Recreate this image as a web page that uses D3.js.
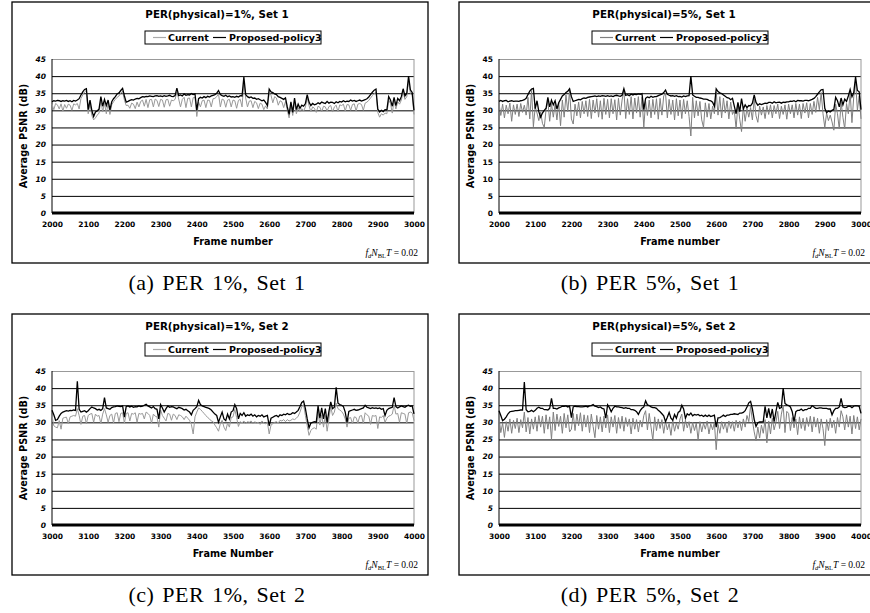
<!DOCTYPE html>
<html>
<head>
<meta charset="utf-8">
<script src="https://cdn.jsdelivr.net/npm/d3@7"></script>
<style>
  body { margin: 0; background: #fff; }
  svg text { font-family: "DejaVu Sans", Verdana, sans-serif; }
</style>
</head>
<body>
<svg id="fig" width="870" height="613"></svg>
<script>
// frames are sampled every 5 frames, 1000 frames per panel
const frameStep = 5;
const set1Start = 2000;
const set2Start = 3000;
const set1Ticks = [2000, 2100, 2200, 2300, 2400, 2500, 2600, 2700, 2800, 2900, 3000];
const set2Ticks = [3000, 3100, 3200, 3300, 3400, 3500, 3600, 3700, 3800, 3900, 4000];
const yTicks = [0, 5, 10, 15, 20, 25, 30, 35, 40, 45];
const seriesNames = ["Current", "Proposed-policy3"];

const titles = ["PER(physical)=1%, Set 1", "PER(physical)=5%, Set 1", "PER(physical)=1%, Set 2", "PER(physical)=5%, Set 2"];
const xLabels = ["Frame number", "Frame number", "Frame Number", "Frame number"];
const yLabels = ["Average PSNR (dB)", "Average PSNR (dB)", "Average PSNR (dB)", "Avergae PSNR (dB)"];
const captions = ["(a) PER 1%, Set 1", "(b) PER 5%, Set 1", "(c) PER 1%, Set 2", "(d) PER 5%, Set 2"];

// (a) PER 1%, Set 1
const set1Per1Current = [
  31.8, 30.2, 32.0, 31.6, 30.4, 31.9, 29.8, 31.7, 30.6, 31.8,
  31.5, 30.0, 31.9, 31.6, 32.0, 30.4, 33.5, 34.5, 35.4, 35.8,
  29.0, 32.0, 28.5, 27.2, 27.8, 28.6, 29.2, 33.0, 29.5, 32.2,
  29.0, 32.1, 28.8, 31.6, 32.5, 33.2, 33.8, 34.2, 35.0, 35.6,
  33.0, 31.4, 31.5, 30.6, 32.1, 31.8, 30.5, 32.4, 31.0, 32.6,
  33.0, 31.2, 33.2, 30.8, 33.1, 33.2, 31.0, 33.3, 32.9, 31.1,
  33.2, 33.0, 30.9, 33.1, 33.2, 31.2, 33.0, 32.8, 33.2, 35.4,
  33.3, 31.0, 33.2, 33.8, 30.8, 33.5, 33.6, 31.0, 33.7, 33.8,
  28.2, 32.4, 31.0, 32.8, 33.0, 30.8, 33.0, 32.9, 31.0, 33.4,
  33.5, 34.0, 34.8, 31.0, 33.3, 33.0, 30.9, 33.0, 33.2, 31.0,
  33.0, 32.8, 30.6, 32.9, 33.2, 31.0, 38.5, 33.6, 31.0, 32.7,
  32.8, 30.8, 32.6, 32.2, 30.5, 32.1, 31.8, 30.2, 31.3, 30.4,
  35.2, 34.4, 32.2, 34.0, 33.6, 31.5, 32.8, 32.5, 30.8, 32.6,
  30.0, 27.8, 31.5, 28.5, 32.6, 29.0, 30.8, 29.5, 30.5, 29.8,
  31.0, 33.6, 31.4, 29.6, 31.0, 30.6, 29.4, 31.2, 30.9, 29.6,
  31.2, 31.0, 29.8, 31.1, 31.4, 29.5, 31.0, 31.5, 29.6, 31.6,
  31.4, 31.8, 29.8, 31.7, 31.6, 30.0, 31.7, 31.9, 29.8, 31.8,
  32.0, 31.7, 30.0, 32.1, 32.4, 32.9, 33.6, 34.3, 34.9, 35.4,
  29.4, 28.0, 29.0, 28.6, 29.2, 29.0, 33.0, 32.0, 29.2, 32.8,
  30.4, 32.5, 31.8, 33.0, 35.3, 33.2, 34.0, 38.5, 35.0, 34.4,
  28.8
];
const set1Per1Proposed = [
  32.5, 32.8, 32.7, 32.9, 32.8, 32.6, 32.8, 32.7, 32.9, 32.6,
  32.8, 32.5, 32.9, 32.7, 33.0, 33.4, 34.5, 35.4, 36.1, 36.3,
  30.2, 33.0, 30.0, 28.2, 29.5, 29.8, 30.4, 34.0, 31.2, 33.2,
  31.4, 33.0, 30.1, 32.5, 33.4, 34.0, 34.8, 35.1, 35.8, 36.4,
  34.2, 32.4, 32.6, 32.9, 33.1, 33.0, 33.3, 33.5, 33.4, 33.7,
  34.0, 33.9, 34.1, 34.0, 34.2, 34.1, 34.0, 34.2, 34.3, 34.1,
  34.2, 34.0, 34.3, 34.1, 34.2, 34.4, 34.1, 34.0, 34.3, 36.5,
  34.3, 34.5, 34.2, 34.8, 34.4, 34.6, 34.5, 34.9, 34.6, 34.8,
  30.0, 33.4, 33.8, 33.6, 34.0, 33.7, 34.1, 33.9, 34.2, 34.4,
  34.6, 35.0, 35.8, 34.6, 34.3, 34.1, 34.4, 34.0, 34.2, 33.9,
  34.0, 33.8, 34.1, 33.9, 34.3, 34.2, 39.7, 34.6, 34.0, 33.7,
  33.9, 33.5, 33.6, 33.2, 33.4, 33.1, 32.8, 33.0, 32.3, 31.4,
  36.2, 35.4, 35.2, 34.8, 34.6, 34.0, 33.8, 33.5, 33.2, 33.6,
  31.0, 28.8, 32.5, 29.4, 33.6, 30.2, 31.8, 30.6, 31.5, 31.2,
  32.0, 34.6, 32.4, 31.4, 32.0, 31.6, 31.8, 32.2, 31.9, 32.4,
  32.2, 32.0, 32.6, 32.1, 32.4, 32.3, 32.0, 32.5, 32.2, 32.6,
  32.4, 32.8, 32.5, 32.7, 32.6, 33.0, 32.7, 32.9, 32.6, 32.8,
  33.0, 32.7, 32.9, 33.1, 33.4, 33.9, 34.6, 35.3, 35.9, 36.2,
  30.4, 29.5, 30.0, 29.6, 30.2, 30.1, 34.0, 33.0, 31.2, 33.8,
  31.4, 33.5, 32.8, 34.0, 36.3, 34.2, 35.0, 40.0, 36.0, 35.2,
  30.0
];

// (b) PER 5%, Set 1
const set1Per5Current = [
  32.0, 28.5, 31.8, 27.8, 31.5, 29.0, 32.1, 26.8, 31.6, 28.8,
  31.8, 28.2, 32.0, 29.4, 31.5, 28.6, 33.8, 27.5, 35.8, 25.2,
  31.0, 29.2, 27.0, 29.5, 26.2, 25.0, 30.2, 32.8, 26.8, 32.0,
  28.0, 31.8, 27.2, 32.2, 25.5, 33.0, 28.0, 34.5, 29.6, 35.8,
  27.5, 26.0, 31.8, 28.4, 32.4, 27.8, 32.6, 29.0, 32.8, 28.2,
  33.2, 27.6, 33.0, 29.2, 33.4, 28.0, 32.8, 27.4, 33.5, 28.8,
  33.2, 27.8, 33.4, 29.0, 33.1, 27.2, 33.5, 28.6, 33.0, 35.8,
  27.6, 33.4, 28.8, 34.0, 27.5, 33.6, 29.2, 34.0, 28.0, 33.8,
  25.0, 32.6, 28.5, 33.0, 27.8, 33.2, 28.8, 33.4, 27.4, 33.5,
  28.6, 34.2, 35.0, 27.8, 33.2, 28.8, 33.0, 27.2, 33.4, 28.4,
  33.0, 27.6, 33.2, 29.0, 32.8, 28.2, 22.5, 33.8, 27.8, 32.8,
  28.4, 32.6, 27.2, 25.0, 32.2, 28.0, 32.0, 27.5, 31.2, 29.0,
  35.4, 28.6, 34.0, 27.8, 33.6, 29.2, 32.8, 27.5, 32.4, 28.8,
  30.0, 24.6, 32.0, 27.4, 23.8, 31.0, 26.8, 30.6, 28.0, 30.8,
  27.2, 33.4, 28.4, 26.5, 31.2, 28.6, 31.0, 27.6, 31.4, 28.8,
  31.6, 27.8, 31.4, 29.0, 31.8, 27.6, 31.2, 28.8, 31.6, 27.4,
  31.8, 29.0, 31.6, 27.8, 32.0, 28.6, 31.8, 27.6, 32.0, 29.2,
  32.2, 27.8, 32.0, 28.8, 32.6, 29.4, 33.8, 30.2, 35.2, 29.0,
  25.0, 29.2, 27.0, 28.6, 26.6, 24.2, 31.8, 29.0, 24.6, 32.4,
  28.0, 24.6, 32.0, 29.0, 35.2, 26.4, 34.0, 38.6, 30.0, 34.2,
  27.5
];
const set1Per5Proposed = [
  32.6, 32.9, 32.6, 32.8, 32.9, 32.5, 32.7, 32.8, 32.6, 32.7,
  32.7, 32.6, 32.8, 32.9, 33.1, 33.5, 34.6, 35.6, 36.2, 36.4,
  30.5, 32.8, 29.6, 28.0, 29.2, 30.0, 30.6, 33.8, 31.0, 33.0,
  31.6, 32.8, 30.4, 32.2, 33.2, 34.2, 34.6, 35.2, 35.6, 36.3,
  34.0, 32.6, 32.8, 33.0, 33.2, 33.1, 33.4, 33.6, 33.5, 33.8,
  33.9, 34.0, 34.1, 34.2, 34.0, 34.2, 34.1, 34.3, 34.2, 34.1,
  34.3, 34.1, 34.2, 34.0, 34.3, 34.4, 34.2, 34.1, 34.4, 36.3,
  34.4, 34.6, 34.3, 34.7, 34.5, 34.7, 34.6, 34.8, 34.7, 34.9,
  30.2, 33.5, 33.9, 33.7, 34.1, 33.8, 34.0, 34.0, 34.3, 34.5,
  34.7, 35.2, 35.9, 34.7, 34.4, 34.2, 34.3, 34.1, 34.3, 34.0,
  34.1, 33.9, 34.2, 34.0, 34.2, 34.3, 40.0, 34.5, 34.1, 33.8,
  33.8, 33.6, 33.5, 33.3, 33.3, 33.2, 32.9, 32.8, 32.4, 31.2,
  36.3, 35.5, 35.1, 34.9, 34.5, 34.1, 33.7, 33.6, 33.1, 33.5,
  31.2, 29.0, 32.3, 29.6, 33.4, 30.4, 31.6, 30.8, 31.4, 31.3,
  32.1, 34.5, 32.3, 31.5, 31.9, 31.7, 31.9, 32.1, 32.0, 32.3,
  32.3, 32.1, 32.5, 32.2, 32.3, 32.4, 32.1, 32.4, 32.3, 32.5,
  32.5, 32.7, 32.6, 32.8, 32.5, 32.9, 32.8, 32.8, 32.7, 32.9,
  32.9, 32.8, 33.0, 33.2, 33.5, 34.0, 34.7, 35.4, 36.0, 36.1,
  30.6, 29.3, 29.8, 29.5, 30.0, 30.3, 33.8, 32.8, 31.0, 33.6,
  31.6, 33.3, 32.6, 34.2, 36.1, 34.0, 35.2, 39.8, 35.8, 35.4,
  30.2
];

// (c) PER 1%, Set 2
const set2Per1Current = [
  32.0, 29.0, 28.6, 28.4, 30.5, 28.0, 31.2, 31.4, 31.5, 29.6,
  31.6, 31.8, 32.0, 31.8, 34.0, 32.0, 29.4, 31.8, 32.0, 29.6,
  32.0, 32.4, 32.6, 30.0, 32.4, 31.8, 32.0, 29.6, 32.4, 34.0,
  32.2, 30.0, 32.0, 32.4, 29.8, 32.6, 32.8, 30.2, 32.6, 32.8,
  29.8, 32.6, 32.8, 30.4, 32.6, 32.4, 32.8, 30.0, 32.6, 32.4,
  32.6, 31.0, 33.0, 32.6, 32.0, 29.8, 32.4, 31.8, 31.6, 28.6,
  33.6, 32.0, 31.2, 30.4, 32.6, 32.4, 30.6, 32.4, 32.0, 30.8,
  32.2, 32.0, 31.6, 30.8, 31.8, 31.2, 30.6, 29.4, 26.6, 31.6,
  33.0, 34.2, 33.8, 33.2, 32.6, 32.0, 31.4, 31.0, 30.4, 30.2,
  29.2, 28.4, 27.4, 29.6, 30.6, 28.6, 27.6, 29.8, 28.6, 31.4,
  31.6, 33.8, 31.4, 28.8, 30.2, 29.8, 30.4, 29.6, 30.2, 30.0,
  30.4, 29.6, 30.2, 29.8, 30.0, 29.4, 30.4, 29.8, 29.6, 30.0,
  26.6, 29.2, 29.6, 30.0, 30.2, 29.8, 30.6, 30.4, 30.8, 30.2,
  30.8, 30.4, 30.6, 31.0, 30.8, 31.2, 31.8, 33.0, 34.6, 35.2,
  32.0, 29.0, 26.2, 27.6, 28.2, 28.4, 28.0, 33.0, 29.2, 32.2,
  28.6, 32.0, 27.4, 31.0, 34.6, 32.0, 33.0, 35.6, 34.0, 33.6,
  33.2, 32.4, 31.0, 28.6, 31.2, 31.4, 29.6, 31.6, 31.4, 29.8,
  31.8, 32.0, 29.6, 32.8, 32.2, 31.8, 29.4, 32.0, 31.8, 32.0,
  28.2, 31.6, 31.4, 32.0, 30.0, 31.2, 31.8, 32.0, 32.4, 35.0,
  32.4, 32.6, 30.0, 32.8, 32.6, 32.4, 29.6, 32.8, 33.0, 32.8,
  30.5
];
const set2Per1Proposed = [
  33.5, 32.2, 30.6, 30.8, 31.8, 32.6, 33.0, 33.2, 33.4, 33.3,
  33.5, 33.4, 33.6, 33.5, 42.0, 33.8, 33.0, 33.2, 33.4, 33.0,
  33.4, 34.0, 34.5, 34.2, 34.0, 33.6, 33.8, 33.5, 34.0, 37.2,
  34.2, 34.0, 33.8, 34.3, 34.5, 34.6, 34.8, 34.7, 34.6, 34.8,
  31.5, 34.6, 34.8, 34.5, 34.7, 34.4, 34.6, 34.5, 34.8, 34.6,
  34.7, 35.0, 35.3, 34.8, 34.5, 34.2, 34.6, 34.0, 33.8, 31.0,
  35.2, 34.2, 33.0, 34.0, 34.8, 34.4, 34.6, 34.5, 34.2, 34.0,
  34.4, 34.2, 34.0, 33.6, 33.8, 33.4, 33.0, 32.2, 33.5, 34.0,
  34.6, 36.4, 35.2, 34.8, 34.6, 34.4, 34.2, 34.0, 33.6, 33.0,
  32.4, 32.0, 30.0, 31.6, 33.0, 31.0, 30.5, 32.4, 31.0, 33.0,
  33.4, 35.2, 34.0, 31.0, 32.6, 32.0, 32.8, 31.8, 32.2, 32.0,
  32.4, 31.8, 32.2, 31.6, 32.0, 31.8, 32.2, 31.6, 31.8, 32.0,
  29.0, 31.2, 31.5, 31.8, 32.0, 31.6, 32.2, 32.0, 32.4, 32.2,
  32.6, 32.3, 32.4, 32.8, 32.6, 33.0, 33.5, 34.6, 35.8, 36.2,
  34.0, 31.0, 28.4, 29.8, 30.0, 30.2, 30.0, 34.8, 31.2, 34.2,
  31.0, 34.0, 30.0, 33.2, 36.0, 34.0, 34.4, 40.2, 35.6, 35.2,
  35.0, 34.6, 33.0, 30.0, 33.2, 33.4, 33.6, 33.8, 33.5, 33.6,
  33.8, 34.0, 34.2, 35.0, 34.4, 34.2, 34.0, 34.3, 34.1, 34.2,
  34.0, 34.2, 33.8, 34.0, 32.0, 33.5, 34.0, 34.2, 34.4, 37.2,
  34.6, 34.2, 34.5, 34.8, 34.6, 34.4, 34.8, 35.0, 34.7, 34.8,
  32.5
];

// (d) PER 5%, Set 2
const set2Per5Current = [
  31.5, 27.0, 29.8, 25.6, 30.2, 27.4, 31.0, 26.8, 30.6, 28.2,
  31.2, 27.0, 30.8, 28.4, 33.0, 27.2, 31.4, 26.6, 31.0, 28.0,
  31.6, 27.4, 32.0, 28.6, 31.8, 26.8, 32.2, 28.0, 31.6, 25.0,
  33.0, 27.6, 32.4, 28.8, 31.8, 26.8, 32.6, 28.4, 32.2, 27.2,
  28.0, 32.6, 27.6, 32.4, 29.0, 32.8, 27.4, 32.2, 28.6, 32.0,
  27.0, 32.4, 28.8, 25.5, 32.0, 28.0, 31.6, 27.2, 31.8, 28.4,
  32.2, 27.0, 31.6, 28.6, 32.0, 26.8, 31.4, 28.2, 31.8, 27.4,
  31.4, 28.8, 31.0, 26.6, 31.2, 28.0, 30.8, 27.2, 30.6, 28.6,
  32.0, 33.4, 27.8, 32.6, 28.6, 24.8, 31.6, 27.6, 31.0, 28.2,
  30.8, 26.8, 30.4, 27.8, 29.6, 26.2, 30.6, 27.4, 29.8, 28.0,
  31.0, 32.4, 27.4, 30.6, 28.4, 30.2, 26.8, 30.0, 27.6, 29.8,
  24.8, 30.2, 27.2, 29.8, 28.0, 30.4, 26.6, 29.6, 27.8, 30.0,
  22.0, 29.4, 26.8, 30.2, 28.0, 30.0, 27.0, 30.4, 28.2, 30.2,
  27.4, 30.6, 28.4, 30.4, 27.6, 31.0, 28.6, 32.0, 30.2, 34.8,
  30.4, 27.2, 24.6, 28.6, 25.4, 29.2, 26.8, 30.8, 24.0, 30.4,
  26.6, 31.2, 27.8, 30.0, 33.2, 28.2, 32.4, 35.0, 27.0, 33.2,
  32.6, 27.6, 31.4, 28.4, 31.0, 26.4, 31.6, 28.2, 31.2, 27.6,
  31.4, 28.8, 31.8, 27.2, 31.6, 28.6, 31.2, 26.8, 31.0, 28.2,
  23.2, 30.8, 27.6, 31.2, 28.4, 30.6, 26.8, 31.4, 28.6, 33.4,
  31.6, 27.8, 32.2, 28.6, 31.8, 26.6, 32.0, 28.2, 31.6, 27.8,
  31.0
];
const set2Per5Proposed = [
  33.4, 32.0, 30.5, 30.9, 31.6, 32.5, 33.1, 33.2, 33.3, 33.4,
  33.4, 33.5, 33.6, 33.6, 41.8, 33.7, 33.1, 33.2, 33.5, 33.1,
  33.5, 34.1, 34.4, 34.1, 34.1, 33.7, 33.7, 33.6, 34.1, 37.0,
  34.1, 34.1, 33.9, 34.2, 34.4, 34.7, 34.7, 34.8, 34.5, 34.7,
  31.4, 34.5, 34.7, 34.6, 34.6, 34.5, 34.5, 34.6, 34.7, 34.5,
  34.8, 34.9, 35.2, 34.7, 34.6, 34.3, 34.5, 34.1, 33.9, 31.2,
  35.1, 34.3, 33.1, 34.1, 34.7, 34.5, 34.5, 34.4, 34.3, 34.1,
  34.3, 34.1, 34.1, 33.7, 33.7, 33.5, 33.1, 32.3, 33.4, 34.1,
  34.5, 36.3, 35.1, 34.9, 34.5, 34.3, 34.3, 34.1, 33.5, 33.1,
  32.5, 31.9, 30.2, 31.5, 32.9, 31.2, 30.6, 32.3, 31.2, 32.9,
  33.3, 35.0, 33.9, 31.2, 32.5, 32.1, 32.7, 31.9, 32.3, 32.1,
  32.3, 31.9, 32.1, 31.7, 32.1, 31.7, 32.1, 31.7, 31.9, 32.1,
  28.6, 31.3, 31.4, 31.7, 32.1, 31.7, 32.1, 32.1, 32.3, 32.3,
  32.5, 32.4, 32.3, 32.7, 32.7, 32.9, 33.4, 34.5, 35.7, 36.1,
  33.9, 30.8, 28.8, 29.9, 30.1, 30.1, 30.2, 34.7, 31.3, 34.1,
  31.2, 33.9, 30.2, 33.1, 35.8, 34.1, 34.3, 40.0, 35.5, 35.1,
  34.9, 34.5, 33.1, 30.2, 33.1, 33.5, 33.5, 33.9, 33.4, 33.7,
  33.7, 34.1, 34.1, 34.9, 34.5, 34.1, 34.1, 34.2, 34.2, 34.1,
  34.1, 34.1, 33.9, 33.9, 32.2, 33.4, 34.1, 34.1, 34.5, 37.0,
  34.5, 34.3, 34.4, 34.7, 34.7, 34.3, 34.7, 34.9, 34.8, 34.7,
  32.6
];

// layout of one panel (local coordinates), panels are copied by offset
const W = 870, H = 613;
const plot = { left: 52, right: 414, top: 59, bottom: 213 };
const panels = [
  { dx: 0,   dy: 0,   start: set1Start, ticks: set1Ticks, cur: set1Per1Current, prop: set1Per1Proposed, italicY: true,  capX: 217 },
  { dx: 447, dy: 0,   start: set1Start, ticks: set1Ticks, cur: set1Per5Current, prop: set1Per5Proposed, italicY: false, capX: 650 },
  { dx: 0,   dy: 312, start: set2Start, ticks: set2Ticks, cur: set2Per1Current, prop: set2Per1Proposed, italicY: true,  capX: 217 },
  { dx: 447, dy: 312, start: set2Start, ticks: set2Ticks, cur: set2Per5Current, prop: set2Per5Proposed, italicY: true,  capX: 650 }
];

const svg = d3.select("#fig");
svg.append("rect").attr("width", W).attr("height", H).attr("fill", "#fff");

panels.forEach((p, k) => {
  const g = svg.append("g").attr("transform", `translate(${p.dx},${p.dy})`);

  // outer chart frame
  g.append("rect")
    .attr("x", 12).attr("y", 2).attr("width", 416).attr("height", 261)
    .attr("fill", "#fff").attr("stroke", "#000").attr("stroke-width", 1.3);

  const x = d3.scaleLinear().domain([p.start, p.start + 1000]).range([plot.left, plot.right]);
  const y = d3.scaleLinear().domain([0, 45]).range([plot.bottom, plot.top]);

  // gridlines + y labels
  const yAxis = g.append("g")
    .attr("transform", `translate(${plot.left},0)`)
    .call(d3.axisLeft(y).tickValues(yTicks).tickSize(-(plot.right - plot.left)).tickPadding(6));
  yAxis.select(".domain").remove();
  yAxis.selectAll(".tick line").attr("stroke", d => d === 45 ? "#999" : "#000").attr("stroke-width", 1);
  yAxis.selectAll(".tick text")
    .style("font-size", "7.5px").style("font-weight", "bold")
    .style("font-style", p.italicY ? "italic" : "normal").attr("fill", "#000");

  // plot border: gray right side, black left axis
  g.append("line").attr("x1", plot.right).attr("x2", plot.right)
    .attr("y1", plot.top).attr("y2", plot.bottom).attr("stroke", "#999");
  g.append("line").attr("x1", plot.left).attr("x2", plot.left)
    .attr("y1", plot.top).attr("y2", plot.bottom).attr("stroke", "#000");

  // x labels
  const xAxis = g.append("g")
    .attr("transform", `translate(0,${plot.bottom})`)
    .call(d3.axisBottom(x).tickValues(p.ticks).tickSize(0).tickPadding(9).tickFormat(d3.format("d")));
  xAxis.select(".domain").remove();
  xAxis.selectAll(".tick text").style("font-size", "7.5px").style("font-weight", "bold").attr("fill", "#000");

  // series
  const line = d3.line()
    .x((d, i) => x(p.start + i * frameStep))
    .y(d => y(d));
  g.append("path").datum(p.cur).attr("d", line)
    .attr("fill", "none").attr("stroke", k % 2 ? "#808080" : "#999").attr("stroke-width", 1);
  g.append("path").datum(p.prop).attr("d", line)
    .attr("fill", "none").attr("stroke", "#000").attr("stroke-width", 1.3);

  // thick zero axis
  g.append("line").attr("x1", plot.left).attr("x2", plot.right)
    .attr("y1", y(0)).attr("y2", y(0)).attr("stroke", "#000").attr("stroke-width", 3);

  // title
  g.append("text").attr("x", 217).attr("y", 18).attr("text-anchor", "middle")
    .style("font-size", "10.3px").style("font-weight", "bold").text(titles[k]);

  // legend
  const lg = g.append("g");
  lg.append("rect").attr("x", 145).attr("y", 31).attr("width", 176).attr("height", 13)
    .attr("fill", "#fff").attr("stroke", "#000").attr("stroke-width", 1);
  lg.append("line").attr("x1", 153).attr("x2", 166).attr("y1", 37.5).attr("y2", 37.5)
    .attr("stroke", k % 2 ? "#808080" : "#aaa").attr("stroke-width", 1.2);
  lg.append("text").attr("x", 168).attr("y", 41).style("font-size", "9.5px").style("font-weight", "bold").text(seriesNames[0]);
  lg.append("line").attr("x1", 213).attr("x2", 226).attr("y1", 37.5).attr("y2", 37.5)
    .attr("stroke", "#000").attr("stroke-width", 1.2);
  lg.append("text").attr("x", 229).attr("y", 41).style("font-size", "9.5px").style("font-weight", "bold").text(seriesNames[1]);

  // axis titles
  g.append("text").attr("x", (plot.left + plot.right) / 2).attr("y", 245).attr("text-anchor", "middle")
    .style("font-size", "9.7px").style("font-weight", "bold").text(xLabels[k]);
  g.append("text").attr("transform", `translate(27,${(plot.top + plot.bottom) / 2}) rotate(-90)`)
    .attr("text-anchor", "middle")
    .style("font-size", "9.7px").style("font-weight", "bold").text(yLabels[k]);

  // f_d N_BL T = 0.02
  const ann = g.append("text").attr("x", 418).attr("y", 256).attr("text-anchor", "end")
    .style("font-family", "'Liberation Serif', serif").style("font-size", "9.5px");
  ann.append("tspan").style("font-style", "italic").text("f");
  ann.append("tspan").attr("dy", 2).style("font-size", "6.5px").style("font-style", "italic").text("d");
  ann.append("tspan").attr("dy", -2).style("font-style", "italic").text("N");
  ann.append("tspan").attr("dy", 2).style("font-size", "6.5px").text("BL");
  ann.append("tspan").attr("dy", -2).style("font-style", "italic").text("T");
  ann.append("tspan").text(" = 0.02");

  // caption under the chart
  svg.append("text").attr("x", p.capX).attr("y", p.dy + 290).attr("text-anchor", "middle")
    .style("font-family", "'Liberation Serif', serif").style("font-size", "22px")
    .style("letter-spacing", "0.5px").style("word-spacing", "2px").text(captions[k]);
});
</script>
</body>
</html>
